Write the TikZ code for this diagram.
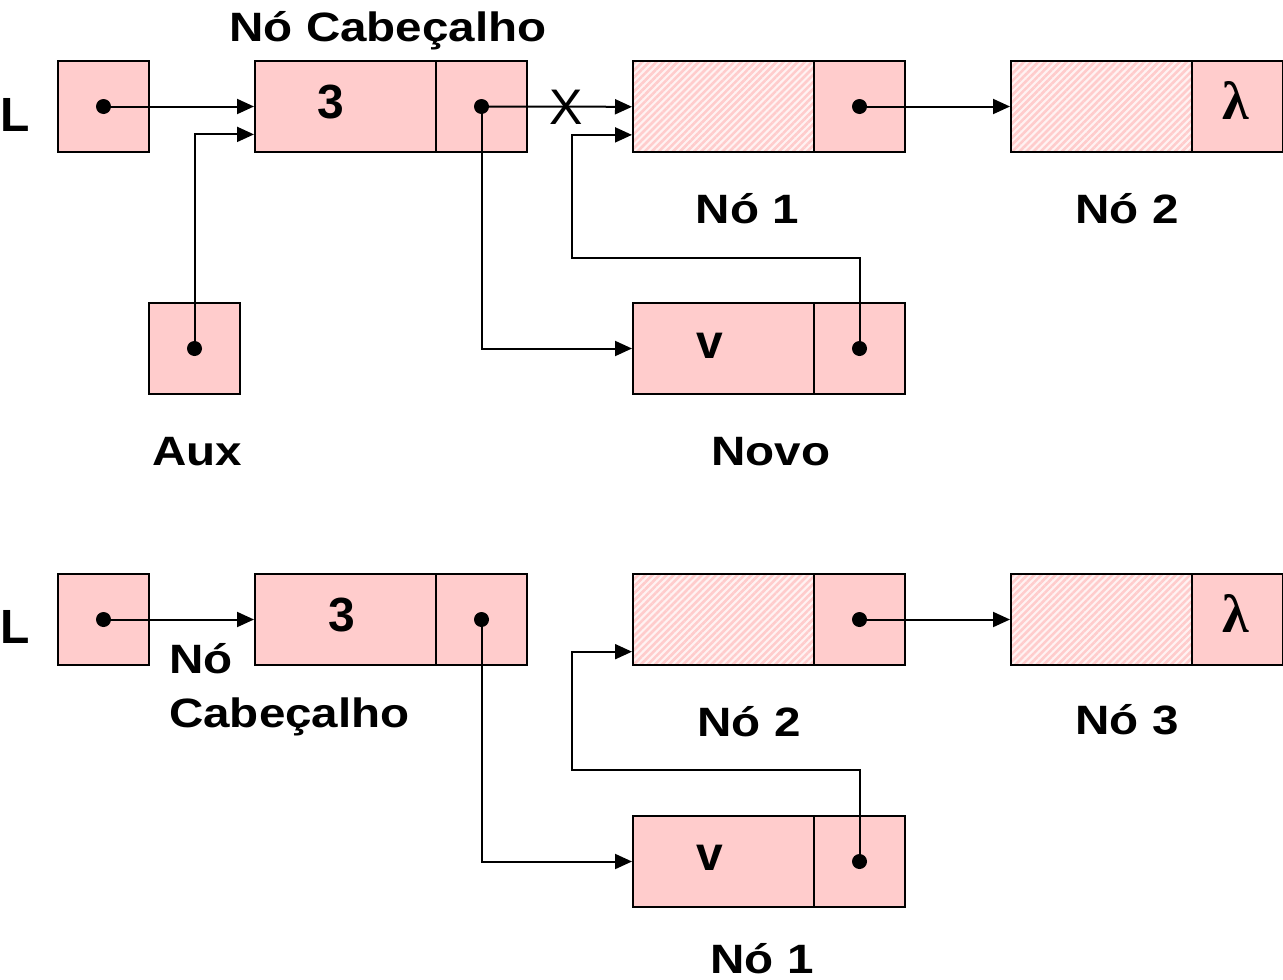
\documentclass[tikz,border=0pt]{standalone}
\usepackage{fontspec}
\setmainfont{Liberation Sans}
\newfontfamily\seriffont{Liberation Serif}
\usetikzlibrary{arrows.meta,patterns.meta,calc}
\definecolor{boxpink}{HTML}{FFCCCC}
\definecolor{hatchbg}{HTML}{FFF2F2}
\tikzset{
 cell/.style={draw=black, line width=2pt, fill=boxpink, inner sep=0pt, anchor=north west},
 hcell/.style={draw=black, line width=2pt, preaction={fill=hatchbg}, pattern={Lines[angle=45,distance=5pt,line width=2.6pt]}, pattern color=boxpink, inner sep=0pt, anchor=north west},
 wide/.style={minimum width=181pt, minimum height=91pt},
 sq/.style={minimum width=91pt, minimum height=91pt},
 dot/.style={circle, fill=black, minimum size=15pt, inner sep=0pt},
 arr/.style={line width=2pt, -{Triangle[length=17pt,width=15pt]}},
 intxt/.style={font=\fontsize{48}{56}\selectfont\bfseries, inner sep=0pt, anchor=base},
 lbl/.style={font=\fontsize{41}{50}\selectfont\bfseries, inner sep=0pt, anchor=base},
 lam/.style={font=\seriffont\fontsize{54}{60}\selectfont\bfseries, inner sep=0pt, anchor=base},
}
\newcommand{\stretchtxt}[1]{\scalebox{1.16}[1]{#1}}
\begin{document}
\begin{tikzpicture}[x=1pt,y=-1pt]
\useasboundingbox (0,0) rectangle (1283,980);
% ---------- top diagram ----------
\node[cell,sq] (L1) at (57,60) {};
\node[dot] (L1d) at (L1.center) {};
\node[cell,wide] (H1v) at (254,60) {};
\node[cell,sq] (H1p) at (435,60) {};
\node[dot] (H1d) at (H1p.center) {};
\node[hcell,wide] (A1v) at (632,60) {};
\node[cell,sq] (A1p) at (813,60) {};
\node[dot] (A1d) at (A1p.center) {};
\node[hcell,wide] (B1v) at (1010,60) {};
\node[cell,sq] (B1p) at (1191,60) {};
\node[cell,sq] (X1) at (148,302) {};
\node[dot] (X1d) at (X1.center) {};
\node[cell,wide] (N1v) at (632,302) {};
\node[cell,sq] (N1p) at (813,302) {};
\node[dot] (N1d) at (N1p.center) {};

\node[intxt] (t3a) at (331,118) {3};
\node[intxt] (tva) at (710,358) {v};
\node[lam] (lama) at (1236,119) {λ};
\node[intxt, anchor=base west] (La) at (0.5,131) {L};
\node[font=\fontsize{50}{56}\selectfont, inner sep=0pt, anchor=base] (xmark) at (566,124) {X};
\node[lbl] (cab1) at (388,41) {\stretchtxt{Nó Cabeçalho}};
\node[lbl] (no1a) at (747.5,223) {\stretchtxt{Nó 1}};
\node[lbl] (no2a) at (1127,223) {\stretchtxt{Nó 2}};
\node[lbl] (aux) at (197,465) {\stretchtxt{Aux}};
\node[lbl] (novo) at (771,465) {\stretchtxt{Novo}};

\draw[arr] (L1d.center) -- (H1v.west);
\draw[arr] (X1d.center) |- ($(H1v.south west)!0.2!(H1v.north west)$);
\draw[arr] (H1d.center) -- (A1v.west);
\draw[arr] (H1d.center) |- (N1v.west);
\coordinate (k1) at (572,258);
\draw[arr] (N1d.center) |- (k1) |- ($(A1v.south west)!0.2!(A1v.north west)$);
\draw[arr] (A1d.center) -- (B1v.west);

% ---------- bottom diagram ----------
\node[cell,sq] (L2) at (57,573) {};
\node[dot] (L2d) at (L2.center) {};
\node[cell,wide] (H2v) at (254,573) {};
\node[cell,sq] (H2p) at (435,573) {};
\node[dot] (H2d) at (H2p.center) {};
\node[hcell,wide] (A2v) at (632,573) {};
\node[cell,sq] (A2p) at (813,573) {};
\node[dot] (A2d) at (A2p.center) {};
\node[hcell,wide] (B2v) at (1010,573) {};
\node[cell,sq] (B2p) at (1191,573) {};
\node[cell,wide] (V2v) at (632,815) {};
\node[cell,sq] (V2p) at (813,815) {};
\node[dot] (V2d) at (V2p.center) {};

\node[intxt] (t3b) at (342,631) {3};
\node[intxt] (tvb) at (710,870) {v};
\node[lam] (lamb) at (1236,632) {λ};
\node[intxt, anchor=base west] (Lb) at (0.5,643) {L};
\node[lbl, anchor=base west] (cab2a) at (169,673) {\stretchtxt{Nó}};
\node[lbl, anchor=base west] (cab2b) at (169,727) {\stretchtxt{Cabeçalho}};
\node[lbl] (no2b) at (749,736) {\stretchtxt{Nó 2}};
\node[lbl] (no3b) at (1127,734) {\stretchtxt{Nó 3}};
\node[lbl] (no1b) at (762,973) {\stretchtxt{Nó 1}};

\draw[arr] (L2d.center) -- (H2v.west);
\draw[arr] (H2d.center) |- (V2v.west);
\coordinate (k2) at (572,770);
\draw[arr] (V2d.center) |- (k2) |- ($(A2v.south west)!0.154!(A2v.north west)$);
\draw[arr] (A2d.center) -- (B2v.west);
\end{tikzpicture}
\end{document}
